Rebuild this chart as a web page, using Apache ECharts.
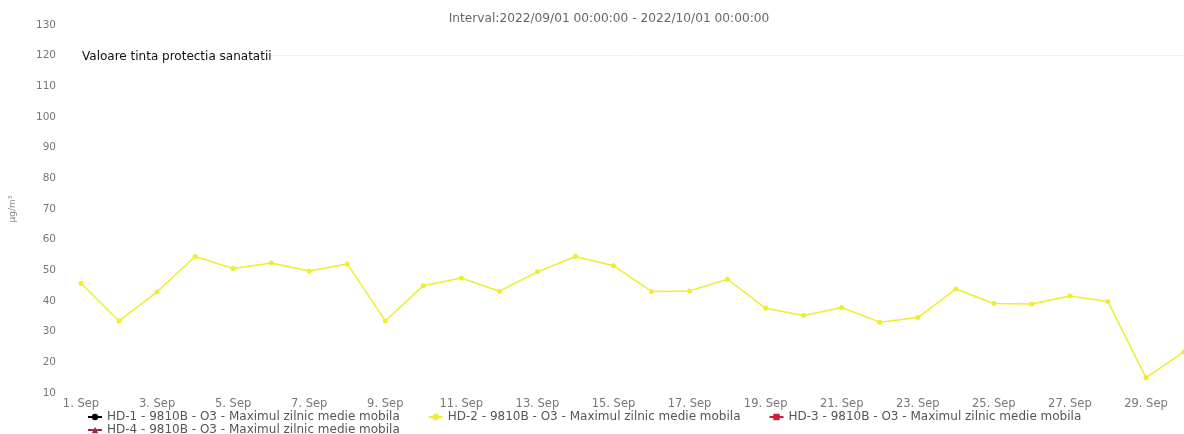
<!DOCTYPE html>
<html>
<head>
<meta charset="utf-8">
<script src="https://cdn.jsdelivr.net/npm/echarts@6/dist/echarts.min.js"></script>
<style>
html,body{margin:0;padding:0;background:#fff;}
#chart{width:1184px;height:434px;}
</style>
</head>
<body>
<div id="chart"></div>
<script>
const days = ['1. Sep','2. Sep','3. Sep','4. Sep','5. Sep','6. Sep','7. Sep','8. Sep','9. Sep','10. Sep',
  '11. Sep','12. Sep','13. Sep','14. Sep','15. Sep','16. Sep','17. Sep','18. Sep','19. Sep','20. Sep',
  '21. Sep','22. Sep','23. Sep','24. Sep','25. Sep','26. Sep','27. Sep','28. Sep','29. Sep','30. Sep'];
const hd2Values = [45.8, 33.5, 43.0, 54.5, 50.6, 52.4, 49.8, 52.1, 33.5, 45.0,
  47.5, 43.2, 49.5, 54.5, 51.5, 43.1, 43.3, 47.1, 37.6, 35.3,
  37.9, 33.1, 34.6, 43.9, 39.2, 39.0, 41.6, 39.8, 15.0, 23.4];
const hd1Values = [];
const hd3Values = [];
const hd4Values = [];
const seriesNames = [
  'HD-1 - 9810B - O3 - Maximul zilnic medie mobila',
  'HD-2 - 9810B - O3 - Maximul zilnic medie mobila',
  'HD-3 - 9810B - O3 - Maximul zilnic medie mobila',
  'HD-4 - 9810B - O3 - Maximul zilnic medie mobila'
];
const targetValue = 120;
const targetLabel = 'Valoare tinta protectia sanatatii';
const titleText = 'Interval:2022/09/01 00:00:00 - 2022/10/01 00:00:00';
const yAxisName = 'µg/m³';

const FONT = 'DejaVu Sans';
const legendCommon = {
  itemWidth: 14,
  itemHeight: 8,
  itemGap: 28,
  padding: 0,
  textStyle: {fontFamily: FONT, fontSize: 12, color: '#555'}
};
const chart = echarts.init(document.getElementById('chart'));
chart.setOption({
  animation: false,
  backgroundColor: '#ffffff',
  textStyle: {fontFamily: FONT},
  title: {
    text: titleText,
    left: 604,
    textAlign: 'center',
    top: 8,
    textStyle: {fontFamily: FONT, fontSize: 12.2, fontWeight: 'normal', color: '#666'}
  },
  grid: {left: 80, top: 25, width: 1106, bottom: 41, containLabel: false},
  legend: [
    Object.assign({left: 87, top: 411, data: seriesNames.slice(0, 3)}, legendCommon),
    Object.assign({left: 87, top: 424, data: seriesNames.slice(3)}, legendCommon)
  ],
  xAxis: {
    type: 'category',
    data: days,
    boundaryGap: false,
    axisLine: {show: false},
    axisTick: {show: false},
    splitLine: {show: false},
    axisLabel: {interval: 1, margin: 5, fontFamily: FONT, fontSize: 11.5, color: '#777'}
  },
  yAxis: {
    type: 'value',
    min: 10, max: 130, interval: 10,
    name: yAxisName,
    nameLocation: 'middle',
    nameGap: 64,
    nameTextStyle: {fontFamily: FONT, fontSize: 9, color: '#888'},
    axisLine: {show: false},
    axisTick: {show: false},
    splitLine: {show: false},
    axisLabel: {margin: 25, fontFamily: FONT, fontSize: 10.5, color: '#777'}
  },
  series: [
    {name: seriesNames[0], type: 'line', data: hd1Values, color: '#000000', symbol: 'circle', symbolSize: 6},
    {
      name: seriesNames[1], type: 'line', data: hd2Values, color: '#eeee2c',
      symbol: 'circle', symbolSize: 5, lineStyle: {width: 1.5},
      markLine: {
        silent: true, symbol: 'none',
        lineStyle: {color: '#f1f1f1', width: 1, type: 'solid'},
        label: {
          show: true, position: 'insideStartTop', distance: [1, -7],
          formatter: targetLabel, fontFamily: FONT, fontSize: 12, color: '#111'
        },
        data: [{yAxis: targetValue}]
      }
    },
    {name: seriesNames[2], type: 'line', data: hd3Values, color: '#d61a3c', symbol: 'rect', symbolSize: 7},
    {name: seriesNames[3], type: 'line', data: hd4Values, color: '#9c2a48', symbol: 'triangle', symbolSize: 7}
  ]
});
</script>
</body>
</html>
